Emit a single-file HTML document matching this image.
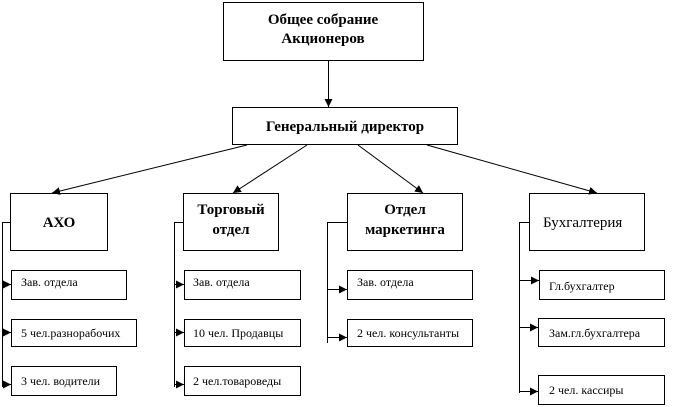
<!DOCTYPE html>
<html><head><meta charset="utf-8"><style>
html,body{margin:0;padding:0;background:#fff;width:686px;height:407px;overflow:hidden}
text{font-family:"Liberation Serif","DejaVu Serif",serif;fill:#000}
.b{font-weight:bold;font-size:15px}
.s{font-size:12px}
</style></head><body>
<svg width="686" height="407" viewBox="0 0 686 407" xmlns="http://www.w3.org/2000/svg">
<defs><marker id="a" viewBox="0 0 10 10" refX="10" refY="5" markerWidth="8" markerHeight="8" orient="auto" markerUnits="userSpaceOnUse"><path d="M0,0L10,5L0,10z" fill="#000"/></marker></defs>
<g fill="none" stroke="#000" stroke-width="1">
<rect x="223.5" y="2.5" width="200" height="58"/>
<rect x="232.5" y="107.5" width="225" height="37"/>
<rect x="10.5" y="193.5" width="97" height="57"/>
<rect x="183.5" y="193.5" width="95" height="57"/>
<rect x="347.5" y="193.5" width="115" height="57"/>
<rect x="529.5" y="193.5" width="115" height="57"/>
<rect x="11.5" y="270.5" width="115" height="29"/>
<rect x="11.5" y="319.5" width="125" height="27"/>
<rect x="11.5" y="366.5" width="105" height="29"/>
<rect x="184.5" y="270.5" width="116" height="29"/>
<rect x="184.5" y="319.5" width="116" height="27"/>
<rect x="184.5" y="366.5" width="116" height="29"/>
<rect x="347.5" y="270.5" width="125" height="29"/>
<rect x="347.5" y="319.5" width="125" height="27"/>
<rect x="539.5" y="270.5" width="125" height="29"/>
<rect x="538.5" y="318.5" width="126" height="28"/>
<rect x="538.5" y="375.5" width="126" height="29"/>
<path d="M10.5,222.5H2.5V387"/>
<path d="M183.5,222.5H174.5V387"/>
<path d="M347.5,222.5H327.5V343"/>
<path d="M529.5,222.5H519.5V393"/>
</g>
<g stroke="#000" stroke-width="1" marker-end="url(#a)">
<line x1="328.5" y1="61" x2="328.5" y2="107"/>
<line x1="247" y1="145" x2="52" y2="193"/>
<line x1="307" y1="145" x2="233" y2="193"/>
<line x1="358" y1="145" x2="423" y2="193"/>
<line x1="427" y1="145" x2="597" y2="193"/>
<line x1="2.5" y1="284.5" x2="11" y2="284.5"/>
<line x1="2.5" y1="332.5" x2="11" y2="332.5"/>
<line x1="2.5" y1="384.5" x2="11" y2="384.5"/>
<line x1="174.5" y1="284.5" x2="184" y2="284.5"/>
<line x1="174.5" y1="332.5" x2="184" y2="332.5"/>
<line x1="174.5" y1="384.5" x2="184" y2="384.5"/>
<line x1="327.5" y1="289.5" x2="347" y2="289.5"/>
<line x1="327.5" y1="337.5" x2="347" y2="337.5"/>
<line x1="519.5" y1="280.5" x2="539" y2="280.5"/>
<line x1="519.5" y1="327.5" x2="538" y2="327.5"/>
<line x1="519.5" y1="391.5" x2="538" y2="391.5"/>
</g>
<text class="b" x="323" y="24" text-anchor="middle">Общее собрание</text>
<text class="b" x="323" y="43" text-anchor="middle">Акционеров</text>
<text class="b" x="345" y="131" text-anchor="middle">Генеральный директор</text>
<text class="b" x="59" y="227" text-anchor="middle">АХО</text>
<text class="b" x="231" y="214" text-anchor="middle">Торговый</text>
<text class="b" x="231" y="234" text-anchor="middle">отдел</text>
<text class="b" x="405" y="214" text-anchor="middle">Отдел</text>
<text class="b" x="405" y="234" text-anchor="middle">маркетинга</text>
<text x="543" y="227" style="font-size:15px">Бухгалтерия</text>
<text class="s" x="21" y="286">Зав. отдела</text>
<text class="s" x="21" y="337">5 чел.разнорабочих</text>
<text class="s" x="21" y="385">3 чел. водители</text>
<text class="s" x="193" y="286">Зав. отдела</text>
<text class="s" x="193" y="337">10 чел. Продавцы</text>
<text class="s" x="193" y="385">2 чел.товароведы</text>
<text class="s" x="357" y="286">Зав. отдела</text>
<text class="s" x="357" y="337">2 чел. консультанты</text>
<text class="s" x="549" y="290">Гл.бухгалтер</text>
<text class="s" x="549" y="337">Зам.гл.бухгалтера</text>
<text class="s" x="549" y="394">2 чел. кассиры</text>
</svg>
</body></html>
